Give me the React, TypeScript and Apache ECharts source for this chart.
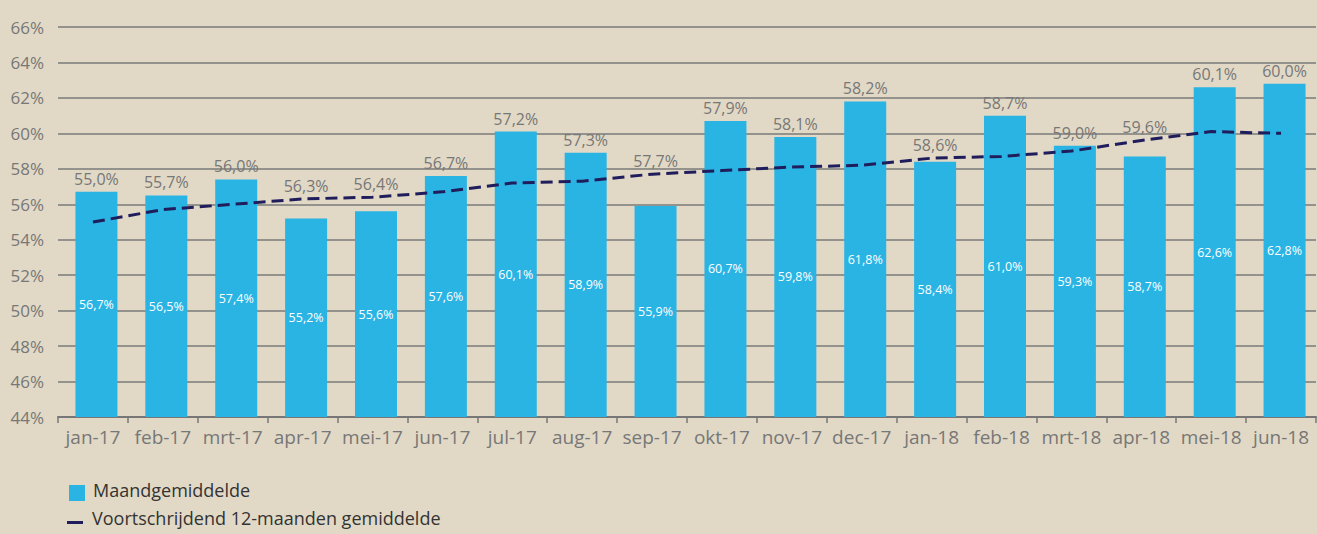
import React, { useEffect, useRef } from "react";
import * as echarts from "echarts";

const categories = ["jan-17","feb-17","mrt-17","apr-17","mei-17","jun-17","jul-17","aug-17","sep-17","okt-17","nov-17","dec-17","jan-18","feb-18","mrt-18","apr-18","mei-18","jun-18"];
const monthly = [56.7,56.5,57.4,55.2,55.6,57.6,60.1,58.9,55.9,60.7,59.8,61.8,58.4,61.0,59.3,58.7,62.6,62.8];
const rolling = [55.0,55.7,56.0,56.3,56.4,56.7,57.2,57.3,57.7,57.9,58.1,58.2,58.6,58.7,59.0,59.6,60.1,60.0];
const yTicks = { min: 44, max: 66, interval: 2 };
const seriesNames = ["Maandgemiddelde", "Voortschrijdend 12-maanden gemiddelde"];

const FONT = "'Open Sans', 'Noto Sans', sans-serif";
const fmt = (v: number) => v.toFixed(1).replace(".", ",") + "%";

export default function App() {
  const ref = useRef<HTMLDivElement>(null);
  useEffect(() => {
    if (!ref.current) return;
    const chart = echarts.init(ref.current, undefined, { renderer: "svg" });
    // extra stacked (transparent) segment up to the higher of bar and line, carrying the top label
    const labelExtra = monthly.map((v, i) => Math.max(0, rolling[i] - v));
    chart.setOption({
      animation: false,
      backgroundColor: "#e1d9c6",
      textStyle: { fontFamily: FONT },
      grid: { left: 58, right: 1, top: 27, bottom: 117, containLabel: false },
      xAxis: {
        type: "category",
        data: categories,
        axisLine: { show: true, lineStyle: { color: "#777", width: 2 } },
        axisTick: { show: true, alignWithLabel: false, length: 6, lineStyle: { color: "#777", width: 1.5 } },
        axisLabel: { color: "#777", fontSize: 19, margin: 10, interval: 0, fontFamily: FONT },
      },
      yAxis: {
        type: "value",
        min: yTicks.min,
        max: yTicks.max,
        interval: yTicks.interval,
        axisLine: { show: false },
        axisTick: { show: false },
        splitLine: { lineStyle: { color: "#7a7a7a", width: 1.5 } },
        axisLabel: { color: "#777", fontSize: 17, margin: 14, formatter: (v: number) => v + "%", fontFamily: FONT },
      },
      series: [
        {
          name: "spacer",
          type: "bar",
          data: monthly.map(() => 0),
          barWidth: 7,
          barGap: "0%",
          itemStyle: { color: "transparent" },
          silent: true,
        },
        {
          name: seriesNames[0],
          type: "bar",
          stack: "main",
          data: monthly,
          barWidth: 42,
          barGap: "0%",
          itemStyle: { color: "#2ab4e4" },
          label: {
            show: true,
            position: "inside",
            color: "#ffffff",
            fontSize: 12.5,
            fontFamily: FONT,
            formatter: (p: any) => fmt(p.value),
          },
          z: 2,
        },
        {
          name: "top-labels",
          type: "bar",
          stack: "main",
          data: labelExtra,
          barWidth: 42,
          barGap: "0%",
          itemStyle: { color: "transparent" },
          label: {
            show: true,
            position: "top",
            distance: 5,
            color: "#777",
            fontSize: 16,
            fontFamily: FONT,
            formatter: (p: any) => fmt(rolling[p.dataIndex]),
          },
          z: 1,
          silent: true,
        },
        {
          name: seriesNames[1],
          type: "line",
          data: rolling,
          symbol: "none",
          lineStyle: { color: "#201d5c", width: 3, type: [12, 6] },
          z: 5,
        },
      ],
      graphic: [
        { type: "rect", left: 69, top: 485, shape: { width: 16, height: 16 }, style: { fill: "#2ab4e4" } },
        { type: "text", left: 93, top: 481, style: { text: seriesNames[0], fill: "#333", fontSize: 18, fontFamily: FONT } },
        { type: "rect", left: 67, top: 521, shape: { width: 16, height: 3 }, style: { fill: "#201d5c" } },
        { type: "text", left: 92, top: 509, style: { text: seriesNames[1], fill: "#333", fontSize: 18, fontFamily: FONT } },
      ],
    });
    return () => chart.dispose();
  }, []);
  return <div ref={ref} style={{ width: 1317, height: 534, position: "absolute", left: 0, top: 0 }} />;
}
